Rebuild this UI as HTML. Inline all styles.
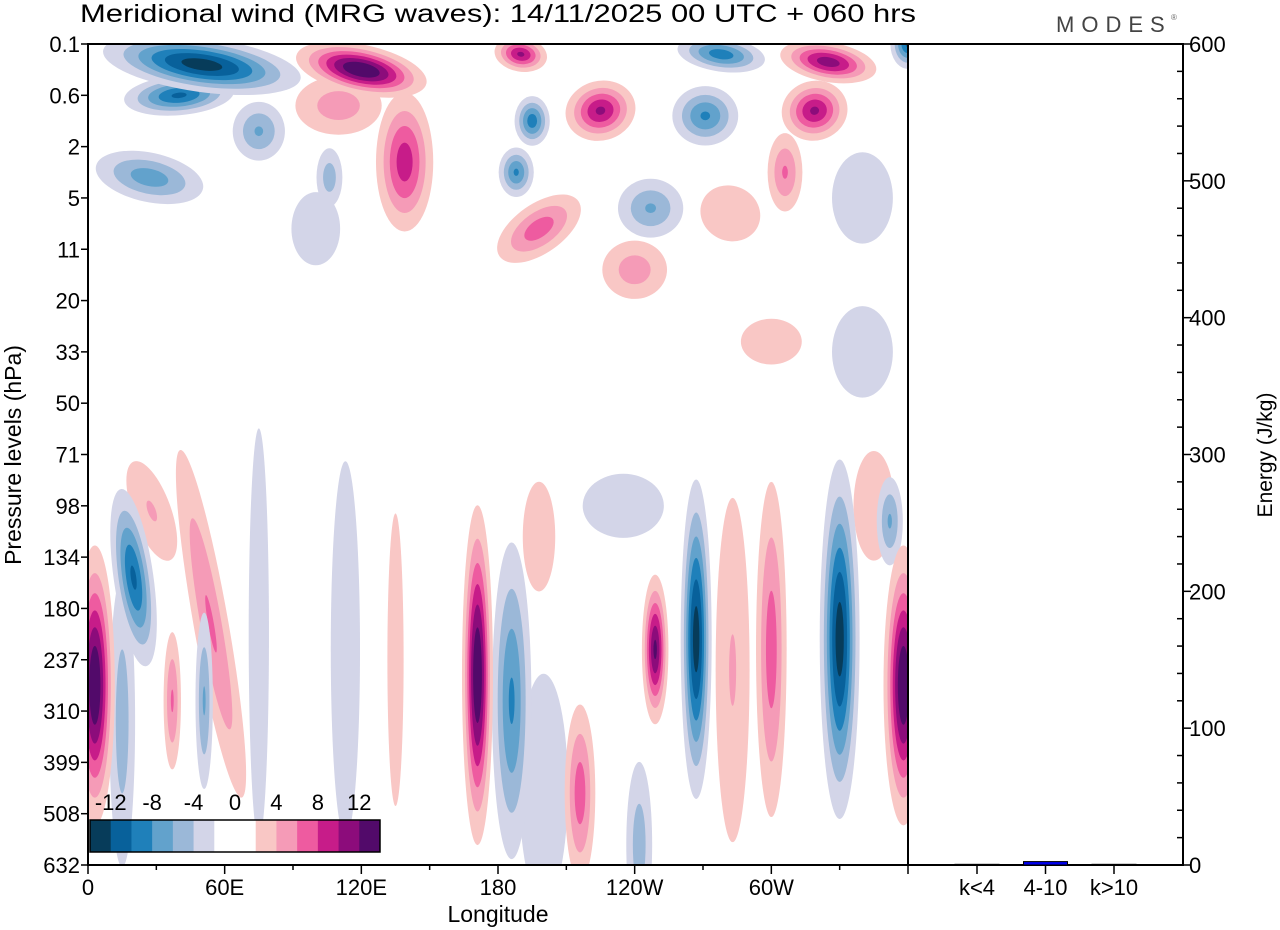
<!DOCTYPE html>
<html><head><meta charset="utf-8"><style>
html,body{margin:0;padding:0;background:#fff;}
svg{display:block;font-family:"Liberation Sans",sans-serif;}
</style></head><body>
<svg id="chart" width="1280" height="930" viewBox="0 0 1280 930">
<defs><clipPath id="clip"><rect x="88" y="44" width="820" height="821"/></clipPath></defs>
<rect x="0" y="0" width="1280" height="930" fill="#fff"/>
<text x="80" y="22" font-size="25" textLength="836" lengthAdjust="spacingAndGlyphs">Meridional wind (MRG waves):  14/11/2025  00 UTC  + 060 hrs</text>
<text x="1056" y="32" font-size="22" fill="#444" letter-spacing="7">MODES</text>
<text x="1171" y="20" font-size="8" fill="#666">®</text>
<g id="field" clip-path="url(#clip)"></g>
<g id="axes"></g>
</svg>
<script>
const levelLabels=["0.1","0.6","2","5","11","20","33","50","71","98","134","180","237","310","399","508","632"];
const lonTicks=[0,60,120,180,240,300];
const lonTickLabels=["0","60E","120E","180","120W","60W"];
const energyTicks=[0,100,200,300,400,500,600];
const energyCats=["k<4","4-10","k>10"];
const energyVals=[0.5,2.5,0.5];
const cbLabels=["-12","-8","-4","0","4","8","12"];
// blobs: lon, level index, half-width (deg), half-height (levels), amplitude (m/s), tilt (deg)
const blobLon=[3,358,20,15,54,51,37,28,75,171,186,135,113,216,249,267,283,300,330,242,200,198,352,235,345,
 50,40,120,110,75,106,27,139,100,
 190,278,325,360,225,195,271,319,306,188,198,247,240,282,340,300,340];
const blobLev=[12.5,12.5,10.4,13.2,11.3,12.8,12.8,9.1,11.5,12.3,12.8,12,11.8,14.6,11.8,11.6,12.2,11.8,11.6,15.6,14.5,9.6,9.3,9,9,
 0.4,1.0,0.5,1.2,1.7,2.6,2.6,2.3,3.6,
 0.2,0.2,0.35,0,1.3,1.5,1.4,1.3,2.5,2.5,3.6,3.2,4.4,3.3,6,5.8,3];
const blobW=[9,9,9,6,8,4,4,9,5,7,9,4,7,7,6,7,8,7,9,6,12,8,6,20,10,
 45,25,30,20,12,6,25,13,12,
 12,20,22,8,16,8,15,15,8,8,22,15,15,15,15,15,15];
const blobH=[2.8,2.8,1.8,3,3.6,1.8,1.4,1.1,4.5,3.4,3.2,3.2,4,1.8,1.5,3.2,3.6,3.4,3.6,1.7,2.5,1.2,0.9,0.7,1.2,
 0.55,0.4,0.5,0.6,0.6,0.6,0.5,1.4,0.8,
 0.35,0.35,0.4,0.5,0.6,0.5,0.6,0.6,0.8,0.5,0.5,0.6,0.6,0.6,1,0.5,1];
const blobAmp=[14,14,-10,-5,6,-6,6,4,-3,14,-8,3,-3.5,7,12,-13,4,7,-13,-5,-3,3,-6,-3,3,
 -13,-10,14,5,-6,-5,-7,9,-3,
 10,-9,11,-10,10,-9,-8,10,6,-8,7,-6,5,3,-3,3,-3];
const blobRot=[0,0,-8,0,-10,0,0,-20,0,0,0,0,0,0,0,0,0,0,0,0,0,0,0,0,0,
 8,-5,12,0,0,0,12,0,0,
 10,8,10,0,-15,0,0,-15,0,0,-35,0,0,25,0,0,0];

const posCol=["#f9c7c5","#f59bb7","#ee5ba0","#c71c89","#8c0c7b","#520a6a"];
const negCol=["#d3d5e8","#9bb8d8","#62a2cc","#1f80ba","#08619b","#073c5a"];
const X0=88,X1=908,Y0=44,Y1=865;
const xs=l=>X0+l*(X1-X0)/360;
const ys=i=>Y0+i*(Y1-Y0)/16;
const EX0=908,EX1=1183;
const ey=v=>Y1-v*(Y1-Y0)/600;
const NS="http://www.w3.org/2000/svg";
function mk(t,a,p){const e=document.createElementNS(NS,t);for(const k in a)e.setAttribute(k,a[k]);(p||document.getElementById('chart')).appendChild(e);return e;}
const field=document.getElementById('field');
const axes=document.getElementById('axes');
const order=blobAmp.map((a,i)=>i).sort((a,b)=>Math.abs(blobAmp[a])-Math.abs(blobAmp[b]));
order.forEach(i=>{
  const a=Math.abs(blobAmp[i]);const cols=blobAmp[i]>0?posCol:negCol;
  const base=Math.log(a/1.8);
  for(let k=0;k<6;k++){const t=2+2*k; if(t>a)break;
    const f=Math.sqrt(Math.max(Math.log(a/t),0.03)/base);
    const cx=xs(blobLon[i]),cy=ys(blobLev[i]);
    const e=mk('ellipse',{cx:cx,cy:cy,rx:blobW[i]*(X1-X0)/360*f,ry:blobH[i]*(Y1-Y0)/16*f,fill:cols[k],transform:`rotate(${blobRot[i]} ${cx} ${cy})`},field);
    
    
  }
});
let r=mk('rect',{x:X0,y:Y0,width:X1-X0,height:Y1-Y0,fill:'none',stroke:'#000','stroke-width':2},axes);

r=mk('path',{d:`M${EX0} ${Y0}H${EX1}V${Y1}H${EX0}`,fill:'none',stroke:'#000','stroke-width':2},axes);

levelLabels.forEach((s,i)=>{
  let l=mk('line',{x1:X0-7,x2:X0,y1:ys(i),y2:ys(i),stroke:'#000','stroke-width':1.5},axes);
  
  let t=mk('text',{x:X0-8,y:ys(i)+8,'font-size':22,'text-anchor':'end'},axes);t.textContent=s;
  
});
let yt=mk('text',{x:21,y:455,'font-size':23,'text-anchor':'middle',transform:'rotate(-90 21 455)'},axes);yt.textContent='Pressure levels (hPa)';

for(let l=0;l<=360;l+=30){let tk=mk('line',{x1:xs(l),x2:xs(l),y1:Y1,y2:Y1+(l%60?5:9),stroke:'#000','stroke-width':1.5},axes);
 }
lonTicks.forEach((l,i)=>{let t=mk('text',{x:xs(l),y:Y1+30,'font-size':22,'text-anchor':'middle'},axes);t.textContent=lonTickLabels[i];
 });
let xt=mk('text',{x:498,y:922,'font-size':23,'text-anchor':'middle'},axes);xt.textContent='Longitude';

for(let v=0;v<=600;v+=20){let tk=mk('line',{x1:EX1-(v%100?6:0),x2:EX1+(v%100?0:8),y1:ey(v),y2:ey(v),stroke:'#000','stroke-width':1.5},axes);
 }
energyTicks.forEach(v=>{let t=mk('text',{x:EX1+6,y:ey(v)+8,'font-size':22},axes);t.textContent=v;
 });
let et=mk('text',{x:1272,y:455,'font-size':21,'text-anchor':'middle',transform:'rotate(-90 1272 455)'},axes);et.textContent='Energy (J/kg)';

const bx=i=>977+i*68.5;
energyCats.forEach((c,i)=>{
  let tk=mk('line',{x1:bx(i),x2:bx(i),y1:Y1,y2:Y1+9,stroke:'#000','stroke-width':1.5},axes);
  
  let h=Y1-ey(energyVals[i]);
  let b=mk('rect',{x:bx(i)-22,y:Y1-h,width:44,height:h,fill:'#0000ee',stroke:'#000','stroke-width':1},axes);
  
  let t=mk('text',{x:bx(i),y:Y1+30,'font-size':22,'text-anchor':'middle'},axes);t.textContent=c;
  
});
const cbAll=["#073c5a","#08619b","#1f80ba","#62a2cc","#9bb8d8","#d3d5e8","#ffffff","#ffffff","#f9c7c5","#f59bb7","#ee5ba0","#c71c89","#8c0c7b","#520a6a"];
const cw=(380-90)/14;
cbAll.forEach((col,i)=>{
 let c=mk('rect',{x:90+i*cw,y:820,width:cw+0.5,height:32,fill:col},axes);
 });
let cbf=mk('rect',{x:90,y:820,width:290,height:32,fill:'none',stroke:'#000','stroke-width':1.5},axes);

cbLabels.forEach((s,i)=>{let t=mk('text',{x:90+cw*(1+2*i),y:810,'font-size':22,'text-anchor':'middle'},axes);t.textContent=s;
 });
</script>
</body></html>
